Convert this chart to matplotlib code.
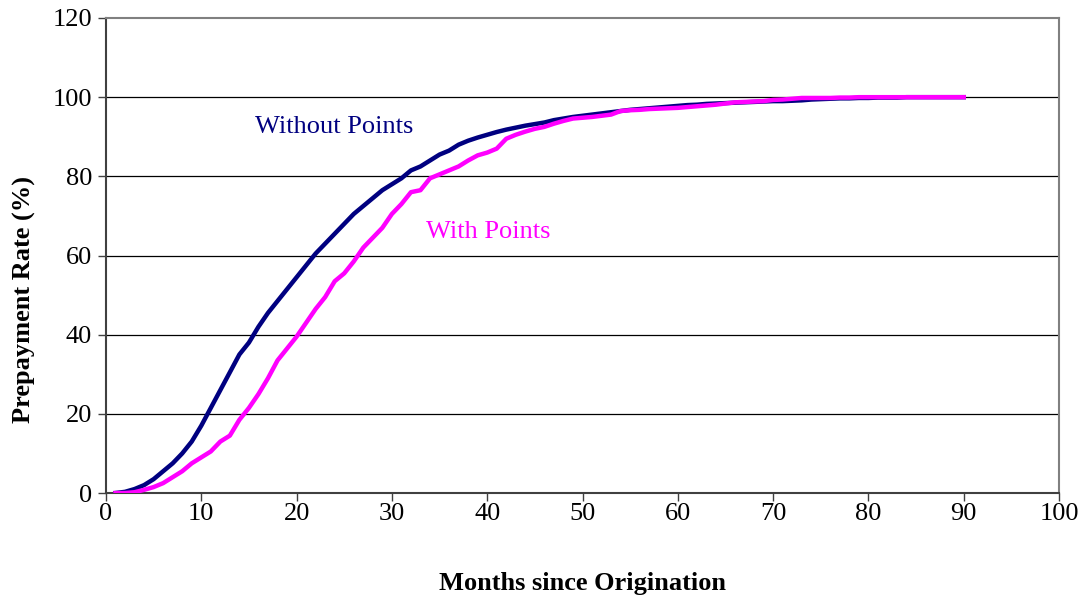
import matplotlib
matplotlib.use("Agg")
import matplotlib.pyplot as plt

months = list(range(1, 91))

without_points = [
    0.0, 0.3, 1.0, 2.0, 3.5, 5.5, 7.5, 10.0, 13.0, 17.0,
    21.5, 26.0, 30.5, 35.0, 38.0, 42.0, 45.5, 48.5, 51.5, 54.5,
    57.5, 60.5, 63.0, 65.5, 68.0, 70.5, 72.5, 74.5, 76.5, 78.0,
    79.5, 81.5, 82.5, 84.0, 85.5, 86.5, 88.0, 89.0, 89.8, 90.5,
    91.2, 91.8, 92.3, 92.8, 93.2, 93.6, 94.2, 94.6, 95.0, 95.3,
    95.6, 95.9, 96.2, 96.5, 96.8, 97.0, 97.2, 97.4, 97.6, 97.8,
    98.0, 98.1, 98.3, 98.4, 98.5, 98.6, 98.7, 98.8, 98.9, 99.0,
    99.0, 99.1, 99.2, 99.4, 99.5, 99.6, 99.7, 99.7, 99.8, 99.8,
    99.9, 99.9, 99.9, 100.0, 100.0, 100.0, 100.0, 100.0, 100.0, 100.0,
]

with_points = [
    0.0, 0.0, 0.2, 0.8, 1.5, 2.5, 4.0, 5.5, 7.5, 9.0,
    10.5, 13.0, 14.5, 18.5, 21.5, 25.0, 29.0, 33.5, 36.5, 39.5,
    43.0, 46.5, 49.5, 53.5, 55.5, 58.5, 62.0, 64.5, 67.0, 70.5,
    73.0, 76.0, 76.5, 79.5, 80.5, 81.5, 82.5, 84.0, 85.3, 86.0,
    87.0, 89.5, 90.5, 91.3, 92.0, 92.5, 93.3, 94.0, 94.6, 94.8,
    95.0, 95.3, 95.6, 96.5, 96.7, 96.8, 97.0, 97.1, 97.2, 97.3,
    97.5, 97.7, 97.9, 98.1, 98.4, 98.7, 98.8, 98.9, 99.0, 99.3,
    99.4, 99.6, 99.8, 99.8, 99.8, 99.8, 99.9, 99.9, 100.0, 100.0,
    100.0, 100.0, 100.0, 100.0, 100.0, 100.0, 100.0, 100.0, 100.0, 100.0,
]

x_ticks = list(range(0, 101, 10))
y_ticks = list(range(0, 121, 20))

plt.rcParams['font.family'] = ['Liberation Serif', 'DejaVu Serif']

fig = plt.figure(figsize=(10.89, 6.0), dpi=100)
ax = fig.add_axes([0.0973, 0.1783, 0.8752, 0.7917])

ax.plot(months, without_points, color='#000080', lw=3.2, solid_joinstyle='round', zorder=3)
ax.plot(months, with_points, color='#FF00FF', lw=3.2, solid_joinstyle='round', zorder=4)

ax.set_xlim(0, 100)
ax.set_ylim(0, 120)
ax.set_xticks(x_ticks)
ax.set_yticks(y_ticks)
ax.tick_params(axis='both', labelsize=19, direction='out', length=6, width=1, color='#404040')
ax.tick_params(axis='x', pad=1)
ax.tick_params(axis='y', pad=4)

for y in y_ticks[1:-1]:
    ax.axhline(y, color='black', lw=0.9, zorder=1)

for side in ['left', 'bottom']:
    ax.spines[side].set_color('#404040')
    ax.spines[side].set_linewidth(1.5)
for side in ['top', 'right']:
    ax.spines[side].set_color('#808080')
    ax.spines[side].set_linewidth(1.5)

ax.set_xlabel('Months since Origination', fontsize=19, fontweight='bold', labelpad=34)
ax.set_ylabel('Prepayment Rate (%)', fontsize=19, fontweight='bold')
ax.yaxis.set_label_coords(-0.0735, 0.408)

ax.text(23.9, 92.4, 'Without Points', color='#000080', fontsize=19, ha='center', va='center')
ax.text(40.1, 66.0, 'With Points', color='#FF00FF', fontsize=19, ha='center', va='center')

fig.savefig('out.png', dpi=100)
